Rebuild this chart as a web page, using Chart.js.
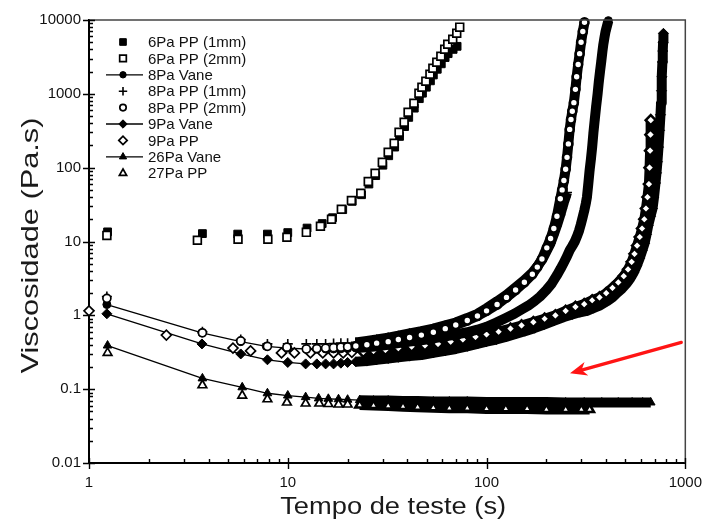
<!DOCTYPE html>
<html>
<head>
<meta charset="utf-8">
<script src="https://cdn.jsdelivr.net/npm/chart.js@4.4.1/dist/chart.umd.min.js"></script>
<style>
  html, body { margin: 0; padding: 0; background: #fff; }
  #wrap { width: 713px; height: 525px; }
</style>
</head>
<body>
<div id="wrap"><canvas id="chart" width="713" height="525"></canvas></div>
<script>
// ---- axis ticks ----
const xTickValues = [1, 10, 100, 1000];
const xTickLabels = ['1', '10', '100', '1000'];
const yTickValues = [0.01, 0.1, 1, 10, 100, 1000, 10000];
const yTickLabels = ['0.01', '0.1', '1', '10', '100', '1000', '10000'];

const xTitle = 'Tempo de teste (s)';
const yTitle = 'Viscosidade (Pa.s)';

// ---- series names (legend order) ----
const seriesNames = ['6Pa PP (1mm)', '6Pa PP (2mm)', '8Pa Vane', '8Pa PP (1mm)', '8Pa PP (2mm)',
                     '9Pa Vane', '9Pa PP', '26Pa Vane', '27Pa PP'];

// ---- measured viscosity (Pa.s) against test time (s) ----
const t6pp1 = [1.24, 3.72, 5.6, 7.9, 10.0, 12.5, 14.9, 16.8, 18.9, 21.1, 23.5, 25.6, 27.7, 30.1, 32.2, 34.5,
               36.5, 38.7, 40.6, 43.3, 45.9, 47.6, 49.8, 52.2, 54.0, 56.5, 59.2, 61.9, 64.1, 67.9, 71.1];
const v6pp1 = [13.5, 12.8, 12.6, 12.6, 13.2, 15.2, 17.5, 21, 27, 35, 43, 60, 78, 108, 145, 190,
               265, 360, 480, 640, 860, 1020, 1230, 1500, 1800, 2150, 2550, 3100, 3500, 4000, 4400];

const t6pp2 = [1.23, 3.51, 5.62, 7.94, 9.9, 12.4, 14.6, 16.6, 18.6, 20.9, 23.3, 25.4, 27.5, 29.9, 32.0, 34.3,
               36.3, 38.5, 40.3, 43.1, 45.7, 47.3, 49.5, 51.9, 53.7, 56.2, 58.9, 61.6, 63.8, 67.6, 70.8, 73.3];
const v6pp2 = [12.1, 10.4, 10.7, 10.7, 11.4, 13.3, 16.1, 20, 27.3, 36, 45, 65, 84, 118, 162, 214,
               302, 412, 563, 746, 1019, 1230, 1480, 1845, 2224, 2680, 3230, 4020, 4700, 5500, 6600, 8000];

const t8vane = [1.23, 3.7, 5.8, 7.8, 10, 12.4, 14, 15.5, 17, 18.5, 20, 22, 25, 28, 32, 36, 41, 47, 54, 62,
                70, 80, 90, 100, 112, 125, 138, 150, 162, 174, 186, 200, 213, 226, 236, 245, 254, 262, 270, 278,
                286, 292, 298, 304, 310, 316, 320, 325, 330, 335, 340, 345, 350, 356, 362, 367, 373, 378, 383, 387,
                392, 397, 402, 410];
const v8vane = [1.4, 0.58, 0.44, 0.38, 0.36, 0.35, 0.35, 0.35, 0.35, 0.352, 0.355, 0.36, 0.37, 0.38, 0.4, 0.42, 0.44, 0.46, 0.49, 0.52,
                0.55, 0.59, 0.64, 0.7, 0.8, 0.92, 1.05, 1.2, 1.35, 1.55, 1.8, 2.2, 2.7, 3.5, 4.3, 5.2, 6.3, 7.6, 8.7, 10,
                12, 14, 17, 21, 26, 33, 40, 60, 92, 130, 190, 300, 440, 680, 1000, 1450, 2090, 2800, 3800, 4700,
                5800, 7000, 8000, 9800];

const t8pp1 = [1.23, 3.72, 5.8, 7.9, 10, 12.4, 14, 15.5, 17, 18.5, 20, 22, 25, 28, 32, 36, 41, 47, 54, 62,
               70, 80, 90, 100, 113, 126, 140, 155, 170, 180, 190, 201, 210, 218, 226, 235, 240, 245, 250, 254];
const v8pp1 = [1.8, 0.6, 0.47, 0.41, 0.41, 0.41, 0.41, 0.41, 0.415, 0.42, 0.42, 0.43, 0.45, 0.47, 0.5, 0.53, 0.57, 0.61, 0.66, 0.73,
               0.8, 0.92, 1.05, 1.25, 1.55, 1.9, 2.4, 3.0, 3.8, 4.6, 5.6, 7.5, 9.5, 12.5, 16.5, 23, 28, 34, 40, 46];

const t8pp2 = [1.23, 3.72, 5.8, 7.9, 9.9, 12.4, 14, 15.5, 17, 18.5, 20, 22, 25, 28, 32, 36, 41, 47, 54, 62,
               70, 80, 90, 100, 113, 126, 140, 155, 170, 180, 190, 201, 210, 218, 226, 235, 240, 245, 250, 254,
               258, 262, 266, 270, 275, 280, 284, 289, 294, 299, 305, 311];
const v8pp2 = [1.7, 0.58, 0.45, 0.38, 0.37, 0.35, 0.355, 0.36, 0.365, 0.37, 0.375, 0.385, 0.4, 0.42, 0.44, 0.47, 0.5, 0.54, 0.59, 0.66,
               0.74, 0.85, 0.98, 1.15, 1.4, 1.75, 2.2, 2.8, 3.6, 4.5, 5.8, 8.2, 11, 15, 22, 38, 50, 67, 95, 138,
               210, 330, 450, 580, 760, 1150, 1700, 2500, 3500, 5000, 7000, 9300];

const t9vane = [1.23, 3.7, 5.8, 7.9, 10, 12.3, 14, 15.5, 17, 18.5, 20, 22, 25, 28, 32, 36, 41, 47, 54, 62,
                70, 80, 90, 100, 112, 125, 140, 156, 174, 195, 218, 245, 270, 295, 320, 345, 370, 403, 430, 452,
                480, 507, 530, 550, 570, 589, 607, 624, 638, 651, 668, 684, 696, 708, 716, 724, 733, 742, 750, 755,
                759, 763, 767, 770, 773, 776];
const v9vane = [1.05, 0.41, 0.30, 0.25, 0.23, 0.22, 0.22, 0.22, 0.22, 0.225, 0.23, 0.235, 0.24, 0.25, 0.26, 0.27, 0.28, 0.29, 0.31, 0.33,
                0.35, 0.38, 0.41, 0.44, 0.47, 0.51, 0.56, 0.61, 0.67, 0.75, 0.84, 0.95, 1.03, 1.1, 1.15, 1.25, 1.35, 1.55, 1.75, 2.0,
                2.3, 2.7, 3.2, 3.8, 4.7, 5.9, 7.5, 9.5, 12.5, 16.6, 22, 28, 40, 62, 85, 120, 190, 320, 520, 750,
                1100, 1700, 2700, 3800, 5000, 6600];

const t9pp = [1.0, 2.45, 5.3, 6.5, 9.3, 10.8, 13, 15, 17, 19, 21, 24, 27, 31, 36, 42, 49, 57, 66, 76,
              88, 100, 115, 132, 150, 172, 196, 222, 250, 280, 310, 340, 370, 400, 430, 460, 490, 515, 537, 555,
              572, 590, 606, 622, 634, 645, 656, 661, 665, 668, 670];
const v9pp = [1.15, 0.54, 0.36, 0.33, 0.31, 0.31, 0.31, 0.31, 0.31, 0.31, 0.315, 0.32, 0.33, 0.34, 0.36, 0.375, 0.39, 0.41, 0.44, 0.47,
              0.51, 0.55, 0.6, 0.66, 0.73, 0.81, 0.9, 1.0, 1.15, 1.3, 1.42, 1.6, 1.75, 2.0, 2.35, 2.8, 3.4, 4.2, 5.3, 6.8,
              8.8, 11.5, 15, 20, 28, 40, 60, 100, 170, 280, 440];

const t26vane = [1.24, 3.72, 5.9, 7.9, 10, 12.3, 14.3, 16, 18, 20, 23, 27, 32, 38, 45, 54, 65, 80, 100, 125,
                 160, 200, 250, 310, 380, 460, 540, 610, 670];
const v26vane = [0.39, 0.14, 0.106, 0.088, 0.082, 0.078, 0.075, 0.074, 0.073, 0.072, 0.071, 0.07, 0.07, 0.069, 0.069, 0.068, 0.068, 0.068, 0.067, 0.067,
                 0.067, 0.067, 0.066, 0.066, 0.066, 0.066, 0.066, 0.066, 0.066];

const t27pp = [1.24, 3.72, 5.9, 7.9, 9.9, 12.3, 14.4, 16, 18, 20, 23, 27, 32, 38, 45, 54, 65, 80, 100, 125,
               160, 200, 250, 300, 330];
const v27pp = [0.31, 0.113, 0.082, 0.073, 0.066, 0.064, 0.064, 0.063, 0.062, 0.062, 0.061, 0.06, 0.059, 0.058, 0.057, 0.056, 0.055, 0.055, 0.054, 0.054,
               0.054, 0.053, 0.053, 0.053, 0.053];

// red arrow annotation (data coordinates)
const arrowTail = { x: 955, y: 0.43 };
const arrowTip = { x: 263, y: 0.164 };

// ---- styling ----
const FONT = "'Liberation Sans', Arial, Helvetica, sans-serif";
const INK = '#000';
const CLEAR = 'rgba(0,0,0,0)';
const bandFrom = 22;   // later readings sit so close together that the markers merge into a band
const bandWidth = 10;

function points(t, v) { return t.map((tx, i) => ({ x: tx, y: v[i] })); }

function inBand(c) { return c.raw && c.raw.x >= bandFrom; }

function bandSegment(thinWidth, thinColor) {
  return {
    borderWidth: c => (c.p0.parsed.x >= bandFrom ? bandWidth : thinWidth),
    borderColor: c => (c.p0.parsed.x >= bandFrom ? INK : thinColor)
  };
}

function markerSeries(label, t, v, style, radius, filled, keyLine, order, band) {
  const keyBorder = style === 'cross' ? 1.6 : (filled ? 1 : 1.7);
  const ds = {
    label,
    data: points(t, v),
    pointStyle: style,
    pointRadius: radius,
    pointHoverRadius: radius,
    pointBackgroundColor: filled ? INK : '#fff',
    pointBorderColor: INK,
    pointBorderWidth: filled || !band ? keyBorder : (c => (inBand(c) ? 2.6 : keyBorder)),
    borderColor: keyLine ? INK : CLEAR,
    borderWidth: 1.3,
    borderCapStyle: 'butt',
    borderJoinStyle: 'round',
    tension: 0,
    showLine: band || keyLine,
    clip: false,
    order,
    keyLine,
    keyBorder,
    keyFill: filled ? INK : '#fff'
  };
  if (band) ds.segment = bandSegment(1.3, keyLine ? INK : CLEAR);
  return ds;
}

const datasets = [
  markerSeries(seriesNames[0], t6pp1, v6pp1, 'rect', 5.5, true, false, 1, false),
  markerSeries(seriesNames[1], t6pp2, v6pp2, 'rect', 5.5, false, false, 0, false),
  markerSeries(seriesNames[2], t8vane, v8vane, 'circle', 4, true, true, 4, true),
  markerSeries(seriesNames[3], t8pp1, v8pp1, 'cross', 5, true, false, 3, true),
  markerSeries(seriesNames[4], t8pp2, v8pp2, 'circle', 4, false, false, 2, true),
  markerSeries(seriesNames[5], t9vane, v9vane, 'rectRot', 5, true, true, 6, true),
  markerSeries(seriesNames[6], t9pp, v9pp, 'rectRot', 5, false, false, 5, true),
  markerSeries(seriesNames[7], t26vane, v26vane, 'triangle', 5, true, true, 8, true),
  markerSeries(seriesNames[8], t27pp, v27pp, 'triangle', 5, false, false, 7, true)
];

// inward minor ticks, crossing major ticks, and the thin top/right frame
const axisDecor = {
  id: 'axisDecor',
  afterDraw(chart) {
    const { ctx, chartArea: a, scales: { x, y } } = chart;
    ctx.save();
    ctx.strokeStyle = '#444';
    ctx.lineWidth = 1.5;
    ctx.beginPath();
    ctx.moveTo(a.left, a.top);
    ctx.lineTo(a.right, a.top);
    ctx.lineTo(a.right, a.bottom);
    ctx.stroke();

    ctx.strokeStyle = INK;
    ctx.lineWidth = 1.4;
    ctx.beginPath();
    const xDecades = [1, 10, 100];
    xDecades.forEach(d => {
      for (let m = 2; m <= 9; m++) {
        const px = Math.round(x.getPixelForValue(m * d)) + 0.5;
        ctx.moveTo(px, a.bottom);
        ctx.lineTo(px, a.bottom - 4);
      }
    });
    xTickValues.forEach(v => {
      const px = Math.round(x.getPixelForValue(v)) + 0.5;
      ctx.moveTo(px, a.bottom + 6);
      ctx.lineTo(px, a.bottom - 5);
    });
    const yDecades = [0.01, 0.1, 1, 10, 100, 1000];
    yDecades.forEach(d => {
      for (let m = 2; m <= 9; m++) {
        const py = Math.round(y.getPixelForValue(m * d)) + 0.5;
        ctx.moveTo(a.left, py);
        ctx.lineTo(a.left + 4, py);
      }
    });
    yTickValues.forEach(v => {
      const py = Math.round(y.getPixelForValue(v)) + 0.5;
      ctx.moveTo(a.left - 6, py);
      ctx.lineTo(a.left + 6, py);
    });
    ctx.stroke();
    ctx.restore();
  }
};

// axis titles, drawn a little wider than the plain font
function stretchedText(ctx, text, cx, cy, angle, length, font, color) {
  ctx.save();
  ctx.translate(cx, cy);
  ctx.rotate(angle);
  ctx.font = font;
  const w = ctx.measureText(text).width;
  ctx.scale(length / w, 1);
  ctx.fillStyle = color;
  ctx.textAlign = 'center';
  ctx.textBaseline = 'middle';
  ctx.fillText(text, 0, 0);
  ctx.restore();
}

const axisTitles = {
  id: 'axisTitles',
  afterDraw(chart) {
    const { ctx, chartArea: a } = chart;
    stretchedText(ctx, xTitle, (a.left + a.right) / 2 + 6, a.bottom + 45, 0, 226, '23px ' + FONT, '#1a1a1a');
    stretchedText(ctx, yTitle, 31, (a.top + a.bottom) / 2 + 4, -Math.PI / 2, 256, '24px ' + FONT, '#1a1a1a');
  }
};

// legend in the upper-left corner of the plot
const seriesKey = {
  id: 'seriesKey',
  afterDraw(chart) {
    const { ctx, chartArea: a } = chart;
    ctx.save();
    ctx.font = '15px ' + FONT;
    ctx.textBaseline = 'middle';
    ctx.textAlign = 'left';
    chart.data.datasets.forEach((ds, i) => {
      const ry = a.top + 22 + i * 16.4;
      const mx = a.left + 34;
      if (ds.keyLine) {
        ctx.strokeStyle = INK;
        ctx.lineWidth = 1.3;
        ctx.beginPath();
        ctx.moveTo(a.left + 17, ry);
        ctx.lineTo(a.left + 54, ry);
        ctx.stroke();
      }
      ctx.fillStyle = ds.keyFill;
      ctx.strokeStyle = INK;
      ctx.lineWidth = ds.keyBorder;
      Chart.helpers.drawPoint(ctx, {
        pointStyle: ds.pointStyle,
        radius: ds.pointRadius - 0.8,
        rotation: 0,
        borderWidth: ds.keyBorder
      }, mx, ry);
      ctx.fillStyle = '#111';
      ctx.fillText(ds.label, a.left + 59, ry + 1);
    });
    ctx.restore();
  }
};

// red arrow pointing at the flat low-viscosity curves
const arrowNote = {
  id: 'arrowNote',
  afterDraw(chart) {
    const { ctx, scales: { x, y } } = chart;
    const x0 = x.getPixelForValue(arrowTail.x), y0 = y.getPixelForValue(arrowTail.y);
    const x1 = x.getPixelForValue(arrowTip.x), y1 = y.getPixelForValue(arrowTip.y);
    const ang = Math.atan2(y1 - y0, x1 - x0);
    const c = Math.cos(ang), s = Math.sin(ang);
    const head = 17, half = 7, notch = 12;
    ctx.save();
    ctx.strokeStyle = '#ff1414';
    ctx.fillStyle = '#ff1414';
    ctx.lineWidth = 3.2;
    ctx.lineCap = 'round';
    ctx.beginPath();
    ctx.moveTo(x0, y0);
    ctx.lineTo(x1 - c * notch, y1 - s * notch);
    ctx.stroke();
    ctx.beginPath();
    ctx.moveTo(x1, y1);
    ctx.lineTo(x1 - c * head - s * half, y1 - s * head + c * half);
    ctx.lineTo(x1 - c * notch, y1 - s * notch);
    ctx.lineTo(x1 - c * head + s * half, y1 - s * head - c * half);
    ctx.closePath();
    ctx.fill();
    ctx.restore();
  }
};

new Chart(document.getElementById('chart'), {
  type: 'scatter',
  data: { datasets },
  plugins: [axisDecor, axisTitles, seriesKey, arrowNote],
  options: {
    responsive: false,
    devicePixelRatio: 1,
    animation: false,
    events: [],
    layout: { padding: { left: 0, top: 20, right: 23, bottom: 0 } },
    plugins: { legend: { display: false }, tooltip: { enabled: false } },
    scales: {
      x: {
        type: 'logarithmic',
        min: 1,
        max: 1000,
        grid: { display: false, drawTicks: false },
        border: { display: true, color: INK, width: 2 },
        ticks: {
          autoSkip: false,
          maxRotation: 0,
          padding: 11,
          color: '#111',
          font: { family: FONT, size: 15 },
          callback: (v, i) => xTickLabels[i]
        },
        afterBuildTicks: s => { s.ticks = xTickValues.map(v => ({ value: v })); },
        afterFit: s => { s.height = 62; }
      },
      y: {
        type: 'logarithmic',
        min: 0.01,
        max: 10000,
        grid: { display: false, drawTicks: false },
        border: { display: true, color: INK, width: 2 },
        ticks: {
          autoSkip: false,
          padding: 8,
          color: '#111',
          font: { family: FONT, size: 15 },
          callback: (v, i) => yTickLabels[i]
        },
        afterBuildTicks: s => { s.ticks = yTickValues.map(v => ({ value: v })); },
        afterFit: s => { s.width = 89; }
      }
    }
  }
});
</script>
</body>
</html>
